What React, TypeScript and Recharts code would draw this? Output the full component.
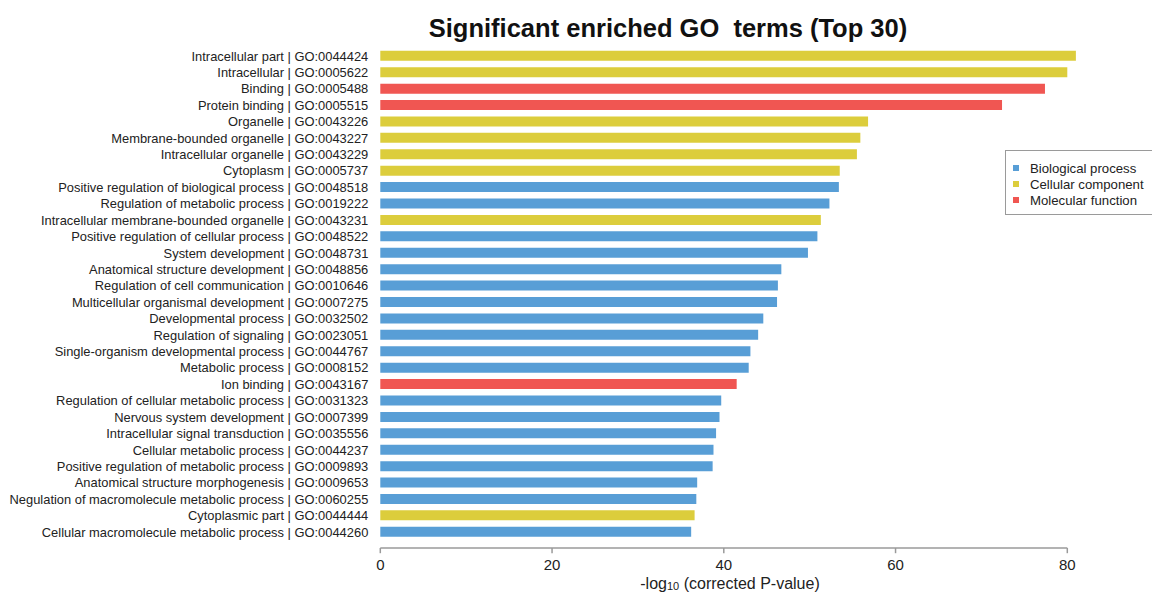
import React from 'react';
import { BarChart, Bar, XAxis, YAxis, Cell, ReferenceLine } from 'recharts';

// GO term names, in display order (top to bottom)
const termNames = [
  'Intracellular part',
  'Intracellular',
  'Binding',
  'Protein binding',
  'Organelle',
  'Membrane-bounded organelle',
  'Intracellular organelle',
  'Cytoplasm',
  'Positive regulation of biological process',
  'Regulation of metabolic process',
  'Intracellular membrane-bounded organelle',
  'Positive regulation of cellular process',
  'System development',
  'Anatomical structure development',
  'Regulation of cell communication',
  'Multicellular organismal development',
  'Developmental process',
  'Regulation of signaling',
  'Single-organism developmental process',
  'Metabolic process',
  'Ion binding',
  'Regulation of cellular metabolic process',
  'Nervous system development',
  'Intracellular signal transduction',
  'Cellular metabolic process',
  'Positive regulation of metabolic process',
  'Anatomical structure morphogenesis',
  'Negulation of macromolecule metabolic process',
  'Cytoplasmic part',
  'Cellular macromolecule metabolic process',
];

const goIds = [
  'GO:0044424', 'GO:0005622', 'GO:0005488', 'GO:0005515', 'GO:0043226',
  'GO:0043227', 'GO:0043229', 'GO:0005737', 'GO:0048518', 'GO:0019222',
  'GO:0043231', 'GO:0048522', 'GO:0048731', 'GO:0048856', 'GO:0010646',
  'GO:0007275', 'GO:0032502', 'GO:0023051', 'GO:0044767', 'GO:0008152',
  'GO:0043167', 'GO:0031323', 'GO:0007399', 'GO:0035556', 'GO:0044237',
  'GO:0009893', 'GO:0009653', 'GO:0060255', 'GO:0044444', 'GO:0044260',
];

// 0 = Biological process, 1 = Cellular component, 2 = Molecular function
const ontologyIndex = [
  1, 1, 2, 2, 1, 1, 1, 1, 0, 0,
  1, 0, 0, 0, 0, 0, 0, 0, 0, 0,
  2, 0, 0, 0, 0, 0, 0, 0, 1, 0,
];

// -log10 (corrected P-value)
const enrichment = [
  81.0, 80.0, 77.4, 72.4, 56.8, 55.9, 55.5, 53.5, 53.4, 52.3,
  51.3, 50.9, 49.8, 46.7, 46.3, 46.2, 44.6, 44.0, 43.1, 42.9,
  41.5, 39.7, 39.5, 39.1, 38.8, 38.7, 36.9, 36.8, 36.6, 36.2,
];

const ontologyNames = ['Biological process', 'Cellular component', 'Molecular function'];
const ontologyColors = ['#589ed6', '#dccd3c', '#f05652'];
const xTicks = [0, 20, 40, 60, 80];
const axisMax = 80;

const rows = termNames.map((name, i) => ({
  label: `${name} | ${goIds[i]}`,
  value: enrichment[i],
  ontology: ontologyIndex[i],
}));

const FONT = '"Liberation Sans", Arial, Helvetica, sans-serif';
const AXIS_GRAY = '#9a9a9a';
const TEXT = '#222';

const XTick = (props: any) => {
  const { x, y, payload } = props;
  return (
    <g>
      <line x1={x} x2={x} y1={y + 7.8} y2={y + 13} stroke={AXIS_GRAY} strokeWidth={1.5} />
      <text x={x} y={y + 30} textAnchor="middle" fontSize={15} fill={TEXT} fontFamily={FONT}>
        {payload.value}
      </text>
    </g>
  );
};

// single-line category labels (no wrapping)
const YTick = (props: any) => {
  const { x, y, payload } = props;
  return (
    <text x={x} y={y} dy="0.355em" textAnchor="end" fontSize={12.9} fill={TEXT} fontFamily={FONT}>
      {payload.value}
    </text>
  );
};

const lastLabel = rows[rows.length - 1].label;

export default function App() {
  return (
    <div style={{ position: 'relative', width: 1152, height: 592, fontFamily: FONT }}>
      <style>{'html, body { margin: 0; padding: 0; overflow: hidden; }'}</style>
      <BarChart
        width={1152}
        height={592}
        data={rows}
        layout="vertical"
        margin={{ top: 47.8, right: 50.35, bottom: 0, left: 0 }}
      >
        <XAxis
          type="number"
          domain={[0, 84]}
          ticks={xTicks}
          axisLine={false}
          tickLine={false}
          tickSize={0}
          tickMargin={0}
          height={51.8}
          tick={<XTick />}
        />
        <YAxis
          type="category"
          dataKey="label"
          width={380.3}
          interval={0}
          axisLine={false}
          tickLine={false}
          tickSize={0}
          tickMargin={12}
          tick={<YTick />}
        />
        <ReferenceLine
          ifOverflow="visible"
          segment={[{ x: 0, y: lastLabel }, { x: axisMax, y: lastLabel }]}
          shape={(p: any) => (
            <line
              x1={p.x1}
              x2={p.x2}
              y1={p.y1 + 16}
              y2={p.y2 + 16}
              stroke={AXIS_GRAY}
              strokeWidth={1.5}
            />
          )}
        />
        <Bar dataKey="value" barSize={10} isAnimationActive={false}>
          {rows.map((r, i) => (
            <Cell key={i} fill={ontologyColors[r.ontology]} />
          ))}
        </Bar>
      </BarChart>

      <div
        style={{
          position: 'absolute',
          left: 668,
          top: 14,
          transform: 'translateX(-50%)',
          whiteSpace: 'pre',
          fontSize: 25.5,
          lineHeight: '28px',
          fontWeight: 'bold',
          color: '#111',
        }}
      >
        {'Significant enriched GO  terms (Top 30)'}
      </div>

      <div
        style={{
          position: 'absolute',
          left: 730,
          top: 576,
          transform: 'translateX(-50%)',
          whiteSpace: 'pre',
          fontSize: 16,
          lineHeight: '16px',
          color: TEXT,
        }}
      >
        -log<span style={{ fontSize: 11, position: 'relative', top: 1 }}>10</span> (corrected P-value)
      </div>

      <div
        style={{
          position: 'absolute',
          left: 1005,
          top: 150,
          width: 147,
          height: 65,
          boxSizing: 'border-box',
          border: `1.5px solid ${AXIS_GRAY}`,
          borderRight: 'none',
          paddingTop: 9,
        }}
      >
        {ontologyNames.map((name, i) => (
          <div
            key={name}
            style={{ display: 'flex', alignItems: 'center', height: 16, fontSize: 13.2, color: TEXT, whiteSpace: 'nowrap' }}
          >
            <span
              style={{ width: 6, height: 6, background: ontologyColors[i], marginLeft: 7, marginRight: 11, flex: 'none' }}
            />
            {name}
          </div>
        ))}
      </div>
    </div>
  );
}
